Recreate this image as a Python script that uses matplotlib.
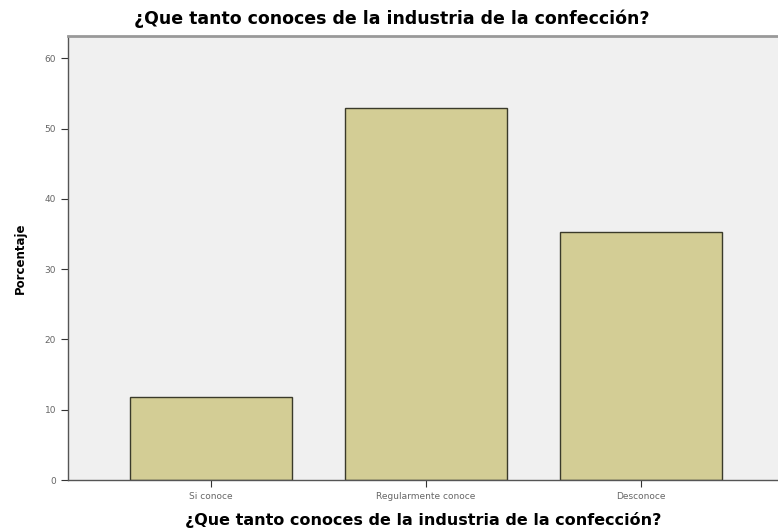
import matplotlib
matplotlib.use('Agg')
import matplotlib.pyplot as plt
import numpy as np

categorias = ['Si conoce', 'Regularmente conoce', 'Desconoce']
porcentaje = [11.8, 52.9, 35.3]
yticks = [0, 10, 20, 30, 40, 50, 60]
titulo = '¿Que tanto conoces de la industria de la confección?'

W, H = 778, 530
fig = plt.figure(figsize=(W / 100, H / 100), dpi=100)
# axes in pixel coords: left 68, right 778, top 36, bottom 480
ax = fig.add_axes([68 / W, 1 - 480 / H, (778 - 68) / W, (480 - 36) / H])
ax.set_facecolor('#f0f0f0')

x = np.arange(len(categorias))
ax.bar(x, porcentaje, width=0.753, color='#d3cd95', edgecolor='#3a3a2a', linewidth=1.0, zorder=2)

ax.set_xlim(-0.665, 2.637)
ax.set_ylim(0, 63.2)
ax.set_yticks(yticks)
ax.set_xticks(x)
ax.set_xticklabels(categorias)
ax.tick_params(axis='both', labelsize=6.5, labelcolor='#666666', color='#333333', length=5, width=0.8)

for s in ['left', 'bottom']:
    ax.spines[s].set_color('#555555')
    ax.spines[s].set_linewidth(1.0)
ax.spines['top'].set_color('#999999')
ax.spines['top'].set_linewidth(2.0)
ax.spines['right'].set_visible(False)

ax.set_ylabel('Porcentaje', fontsize=8.5, fontweight='bold', labelpad=13)
ax.set_xlabel(titulo, fontsize=11.5, fontweight='bold', labelpad=8)
fig.text(392 / W, 1 - 19 / H, titulo, ha='center', va='center', fontsize=12.5, fontweight='bold')

fig.savefig('out.png', dpi=100)
